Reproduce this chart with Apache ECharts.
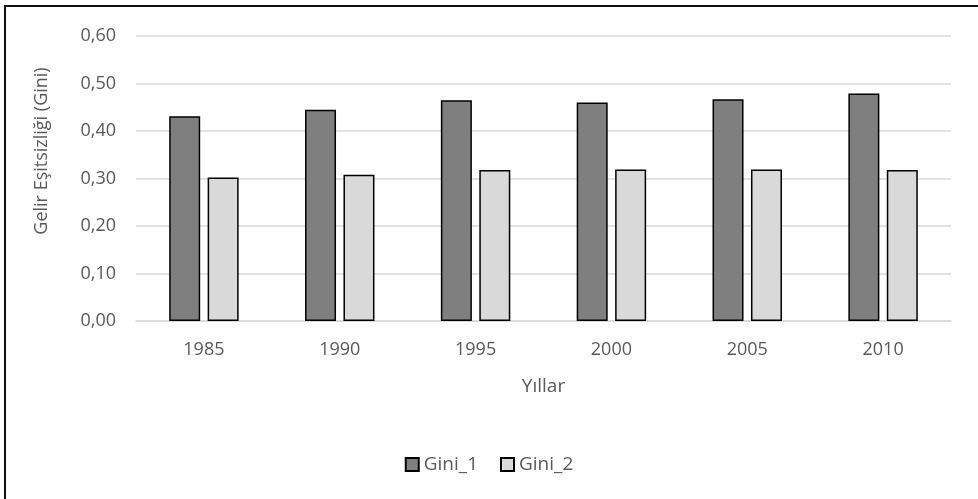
<!DOCTYPE html>
<html>
<head>
<meta charset="utf-8">
<script src="https://cdn.jsdelivr.net/npm/echarts@6/dist/echarts.min.js"></script>
<style>
  html, body { margin: 0; padding: 0; background: #fff; }
  #frame {
    position: absolute; left: 4px; top: 5px; width: 974px; height: 494px;
    border-top: 2px solid #111; border-left: 2px solid #111;
  }
  #main { position: absolute; left: 0; top: 0; width: 978px; height: 499px; }
</style>
</head>
<body>
<div id="frame"></div>
<div id="main"></div>
<script>
// veriler
const years = ['1985', '1990', '1995', '2000', '2005', '2010'];
const gini1 = [0.431, 0.445, 0.465, 0.460, 0.467, 0.479];
const gini2 = [0.302, 0.308, 0.318, 0.319, 0.319, 0.318];
const yTicks = [0, 0.1, 0.2, 0.3, 0.4, 0.5, 0.6];

const font = 'Open Sans';
const textColor = '#595959';

let myChart = echarts.init(document.getElementById('main'));
let option = {
  animation: false,
  textStyle: { fontFamily: font },
  grid: { left: 136, right: 27, top: 36, bottom: 178 },
  legend: {
    bottom: 20,
    left: 'center',
    icon: 'rect',
    itemWidth: 13,
    itemHeight: 13,
    itemGap: 22,
    textStyle: { color: textColor, fontSize: 19, fontFamily: font },
    data: ['Gini_1', 'Gini_2']
  },
  xAxis: {
    type: 'category',
    data: years,
    name: 'Yıllar',
    nameLocation: 'middle',
    nameGap: 56,
    nameTextStyle: { color: textColor, fontSize: 19, fontFamily: font },
    axisLine: { lineStyle: { color: '#d9d9d9', width: 1.5 } },
    axisTick: { show: false },
    axisLabel: { color: textColor, fontSize: 18, fontFamily: font, margin: 20 }
  },
  yAxis: {
    type: 'value',
    min: yTicks[0],
    max: yTicks[yTicks.length - 1],
    interval: 0.1,
    axisLine: { show: false },
    axisTick: { show: false },
    splitLine: { lineStyle: { color: '#d9d9d9', width: 1.5 } },
    axisLabel: {
      color: textColor, fontSize: 18, fontFamily: font, margin: 20,
      formatter: v => v.toFixed(2).replace('.', ',')
    }
  },
  graphic: [{
    type: 'text',
    x: 42,
    y: 151,
    rotation: Math.PI / 2,
    style: {
      text: 'Gelir Eşitsizliği (Gini)',
      fill: textColor,
      fontSize: 18,
      fontFamily: font,
      align: 'center',
      verticalAlign: 'middle'
    }
  }],
  series: [
    {
      name: 'Gini_1',
      type: 'bar',
      data: gini1,
      barWidth: 31,
      barGap: '24%',
      itemStyle: { color: '#7f7f7f', borderColor: '#000', borderWidth: 1.5 }
    },
    {
      name: 'Gini_2',
      type: 'bar',
      data: gini2,
      barWidth: 31,
      itemStyle: { color: '#d9d9d9', borderColor: '#000', borderWidth: 1.5 }
    }
  ]
};
myChart.setOption(option);
</script>
</body>
</html>
